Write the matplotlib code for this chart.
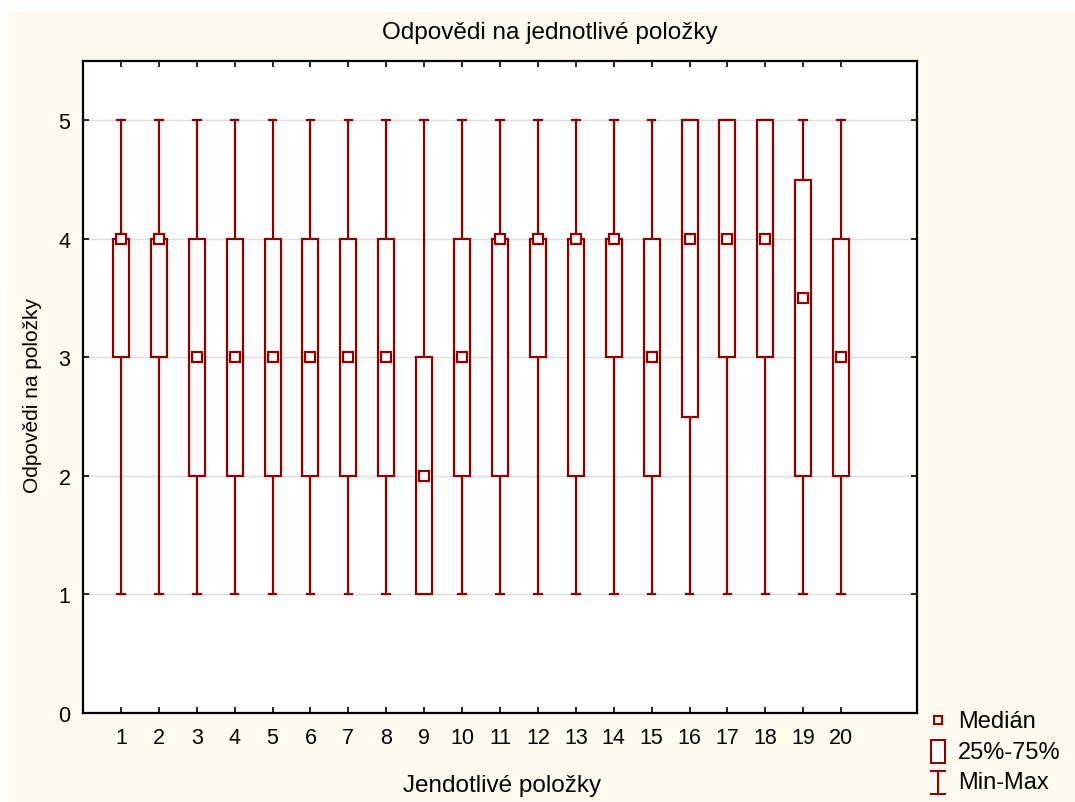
import matplotlib
matplotlib.use("Agg")
import matplotlib.pyplot as plt
from matplotlib.patches import Rectangle
from matplotlib.lines import Line2D

items = list(range(1, 21))
mins = [1]*20
q1 = [3, 3, 2, 2, 2, 2, 2, 2, 1, 2, 2, 3, 2, 3, 2, 2.5, 3, 3, 2, 2]
medians = [4, 4, 3, 3, 3, 3, 3, 3, 2, 3, 4, 4, 4, 4, 3, 4, 4, 4, 3.5, 3]
q3 = [4, 4, 4, 4, 4, 4, 4, 4, 3, 4, 4, 4, 4, 4, 4, 5, 5, 5, 4.5, 4]
maxs = [5]*20
yticks = [0, 1, 2, 3, 4, 5]

plt.rcParams['font.family'] = ['Liberation Sans', 'DejaVu Sans']
col = '#8B0000'
bg = '#FEFAF0'

fig = plt.figure(figsize=(10.75, 8.03), dpi=100)
fig.patch.set_facecolor(bg)
# white strips at top and left
fig.patches.append(Rectangle((0, 1 - 12/803), 1, 12/803, transform=fig.transFigure,
                             facecolor='white', edgecolor='none', zorder=-1))
fig.patches.append(Rectangle((0, 0), 8/1075, 1, transform=fig.transFigure,
                             facecolor='white', edgecolor='none', zorder=-1))

ax = fig.add_axes([83/1075, 89/803, 834/1075, 652/803])
ax.set_facecolor('white')
ax.set_xlim(0, 22)
ax.set_ylim(0, 5.5)

bw = 0.42
cw = 0.2
for x, lo, a, m, b, hi in zip(items, mins, q1, medians, q3, maxs):
    ax.plot([x, x], [lo, a], color=col, lw=1.6, zorder=3)
    ax.plot([x, x], [b, hi], color=col, lw=1.6, zorder=3)
    ax.plot([x - cw/2, x + cw/2], [lo, lo], color=col, lw=1.6, zorder=3)
    ax.plot([x - cw/2, x + cw/2], [hi, hi], color=col, lw=1.6, zorder=3)
    ax.add_patch(Rectangle((x - bw/2, a), bw, b - a, facecolor='white',
                           edgecolor=col, lw=1.6, zorder=4))
    ax.plot([x], [m], marker='s', ms=7, mfc='white', mec=col, mew=1.6,
            linestyle='none', zorder=5)

ax.set_xticks(items)
ax.set_xticklabels([str(i) for i in items])
ax.set_yticks(yticks)
ax.set_yticklabels([str(v) for v in yticks])
for v in yticks[1:]:
    ax.axhline(v, color='#DDDDDD', lw=1, zorder=1)
ax.tick_params(direction='in', top=True, right=True, length=4, width=1.2,
               labelsize=15.5, colors='black')
ax.tick_params(axis='x', pad=10)
ax.tick_params(axis='y', pad=9)
for s in ax.spines.values():
    s.set_linewidth(1.6)
    s.set_color('black')

def fx(px): return px/1075
def fy(py): return 1 - py/803

fig.text(fx(550), fy(33), 'Odpovědi na jednotlivé položky', fontsize=17.5,
         ha='center', va='center')
fig.text(fx(502), fy(786), 'Jendotlivé položky', fontsize=17.5,
         ha='center', va='center')
fig.text(fx(33), fy(396), 'Odpovědi na položky', fontsize=15,
         ha='center', va='center', rotation=90)

# legend
fig.add_artist(Line2D([fx(938)], [fy(721)], marker='s', ms=6, mfc='white', mec=col,
                      mew=1.5, linestyle='none', transform=fig.transFigure))
fig.add_artist(Rectangle((fx(931), fy(764)), 14/1075, 23/803, transform=fig.transFigure,
                         facecolor='white', edgecolor=col, lw=1.5))
fig.add_artist(Line2D([fx(938), fx(938)], [fy(772), fy(795)], color=col, lw=1.5,
                      transform=fig.transFigure))
fig.add_artist(Line2D([fx(931), fx(945)], [fy(772), fy(772)], color=col, lw=1.5,
                      transform=fig.transFigure))
fig.add_artist(Line2D([fx(931), fx(945)], [fy(795), fy(795)], color=col, lw=1.5,
                      transform=fig.transFigure))
for txt, py in [('Medián', 722), ('25%-75%', 753), ('Min-Max', 783)]:
    fig.text(fx(958), fy(py), txt, fontsize=17, va='center', ha='left')

fig.savefig('out.png', dpi=100, facecolor=bg)
